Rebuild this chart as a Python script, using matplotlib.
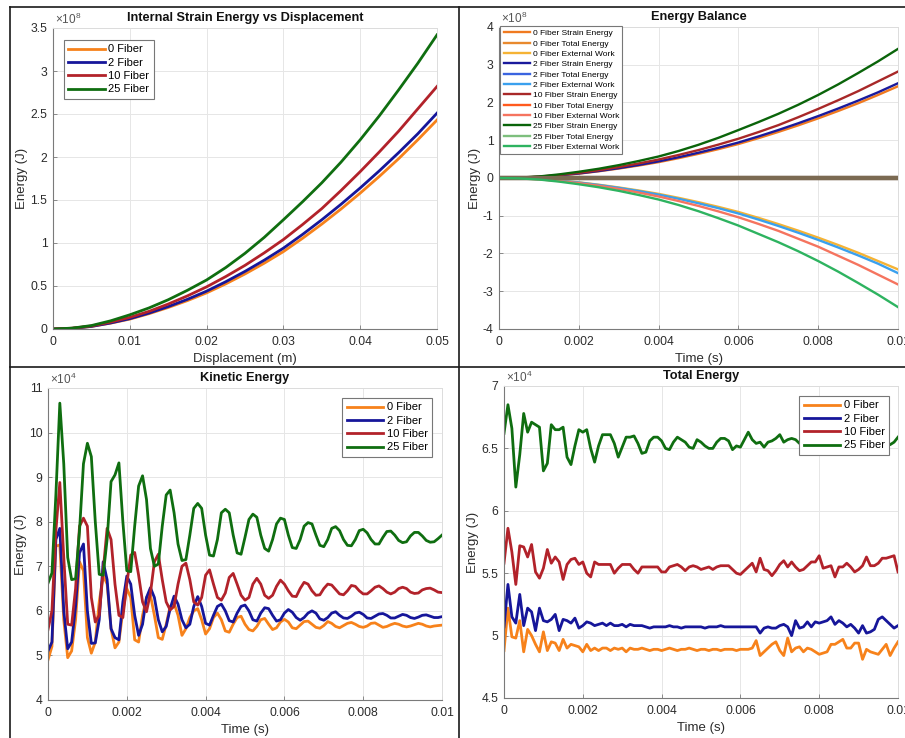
import numpy as np
import matplotlib
matplotlib.use('Agg')
import matplotlib.pyplot as plt
from matplotlib.ticker import FuncFormatter
from matplotlib.lines import Line2D

plt.rcParams['font.family'] = ['Liberation Sans', 'DejaVu Sans']
plt.rcParams['mathtext.fontset'] = 'custom'
plt.rcParams['mathtext.rm'] = 'Liberation Sans'
plt.rcParams['mathtext.it'] = 'Liberation Sans:italic'

# ---------------- data ----------------
fiber_labels = ['0 Fiber', '2 Fiber', '10 Fiber', '25 Fiber']
fiber_colors = ['#F7821B', '#16169A', '#B2222A', '#0F6E10']

# internal strain energy (x 1e8 J) vs displacement (m)
displacement = [0, 0.0025, 0.005, 0.0075, 0.01, 0.0125, 0.015, 0.0175, 0.02, 0.0225, 0.025,
                0.0275, 0.03, 0.0325, 0.035, 0.0375, 0.04, 0.0425, 0.045, 0.0475, 0.05]
strain_0 = [0, 0.008, 0.03, 0.068, 0.115, 0.178, 0.25, 0.33, 0.42, 0.525, 0.64,
            0.765, 0.90, 1.055, 1.22, 1.395, 1.58, 1.775, 1.98, 2.20, 2.43]
strain_2 = [0, 0.008, 0.03, 0.07, 0.12, 0.185, 0.26, 0.345, 0.44, 0.55, 0.67,
            0.80, 0.94, 1.10, 1.27, 1.45, 1.64, 1.84, 2.05, 2.27, 2.51]
strain_10 = [0, 0.009, 0.035, 0.08, 0.135, 0.205, 0.29, 0.385, 0.49, 0.61, 0.74,
             0.885, 1.04, 1.215, 1.40, 1.61, 1.83, 2.06, 2.30, 2.56, 2.82]
strain_25 = [0, 0.01, 0.04, 0.095, 0.165, 0.245, 0.34, 0.45, 0.57, 0.715, 0.88,
             1.065, 1.27, 1.48, 1.70, 1.94, 2.20, 2.48, 2.78, 3.09, 3.42]

# energy balance (x 1e8 J) vs time (s)
time_bal = [0, 0.0005, 0.001, 0.0015, 0.002, 0.0025, 0.003, 0.0035, 0.004, 0.0045, 0.005,
            0.0055, 0.006, 0.0065, 0.007, 0.0075, 0.008, 0.0085, 0.009, 0.0095, 0.01]
total_0 = [0] * 21
total_2 = [0] * 21
total_10 = [0] * 21
total_25 = [0] * 21
work_0 = [0, -0.008, -0.03, -0.068, -0.115, -0.178, -0.25, -0.33, -0.42, -0.525, -0.64,
          -0.765, -0.90, -1.055, -1.22, -1.395, -1.58, -1.775, -1.98, -2.20, -2.42]
work_2 = [0, -0.008, -0.03, -0.07, -0.12, -0.185, -0.26, -0.345, -0.44, -0.55, -0.67,
          -0.80, -0.94, -1.10, -1.27, -1.45, -1.64, -1.84, -2.05, -2.27, -2.52]
work_10 = [0, -0.009, -0.035, -0.08, -0.135, -0.205, -0.29, -0.385, -0.49, -0.61, -0.74,
           -0.885, -1.04, -1.215, -1.40, -1.61, -1.82, -2.06, -2.30, -2.56, -2.82]
work_25 = [0, -0.01, -0.04, -0.095, -0.165, -0.245, -0.34, -0.45, -0.57, -0.715, -0.88,
           -1.065, -1.26, -1.48, -1.70, -1.94, -2.20, -2.48, -2.78, -3.09, -3.42]
balance_labels = ['0 Fiber Strain Energy', '0 Fiber Total Energy', '0 Fiber External Work',
                  '2 Fiber Strain Energy', '2 Fiber Total Energy', '2 Fiber External Work',
                  '10 Fiber Strain Energy', '10 Fiber Total Energy', '10 Fiber External Work',
                  '25 Fiber Strain Energy', '25 Fiber Total Energy', '25 Fiber External Work']
balance_colors = ['#F07A20', '#E8892E', '#F5B335',
                  '#1A1A9C', '#3A64E0', '#3AA0EE',
                  '#A82828', '#FF5A1E', '#F5745F',
                  '#0A640A', '#7DBF7D', '#2EB360']

# kinetic energy (x 1e4 J), sampled every 1e-4 s
time_ke = np.linspace(0, 0.01, 101)
ke_0 = [4.90, 5.2, 7.45, 7.48, 5.8, 4.95, 5.1, 5.8, 7.1, 6.9,
        5.4, 5.05, 5.3, 6.2, 6.8, 6.6, 5.6, 5.17, 5.3, 6.0,
        6.5, 6.3, 5.35, 5.3, 5.9, 6.3, 6.35, 5.9, 5.4, 5.36,
        5.7, 6.1, 6.17, 5.9, 5.45, 5.6, 5.85, 6.0, 6.05, 5.8,
        5.48, 5.6, 5.85, 5.95, 5.8, 5.55, 5.52, 5.7, 5.85, 5.88,
        5.7, 5.58, 5.55, 5.65, 5.8, 5.83, 5.7, 5.58, 5.62, 5.75,
        5.81, 5.75, 5.62, 5.6, 5.68, 5.76, 5.77, 5.7, 5.63, 5.61,
        5.67, 5.76, 5.72, 5.65, 5.62, 5.67, 5.72, 5.74, 5.7, 5.65,
        5.63, 5.66, 5.72, 5.73, 5.68, 5.63, 5.65, 5.69, 5.72, 5.7,
        5.66, 5.64, 5.66, 5.69, 5.72, 5.7, 5.66, 5.64, 5.66, 5.67,
        5.68]
ke_2 = [5.10, 5.3, 7.6, 7.85, 6.0, 5.15, 5.3, 6.1, 7.3, 7.5,
        6.0, 5.27, 5.28, 5.8, 7.1, 6.7, 5.6, 5.4, 5.35, 6.2,
        6.78, 6.6, 5.9, 5.45, 5.7, 6.3, 6.52, 6.3, 5.8, 5.53,
        5.65, 6.05, 6.33, 6.15, 5.8, 5.62, 5.7, 6.1, 6.32, 6.1,
        5.72, 5.68, 5.9, 6.1, 6.15, 6.0, 5.78, 5.75, 5.95, 6.1,
        6.13, 6.0, 5.8, 5.77, 5.95, 6.07, 6.05, 5.9, 5.77, 5.8,
        5.95, 6.03, 5.97, 5.85, 5.79, 5.85, 5.95, 6.0, 5.95, 5.82,
        5.79, 5.85, 5.95, 5.98, 5.9, 5.84, 5.83, 5.88, 5.95, 5.97,
        5.92, 5.84, 5.83, 5.88, 5.93, 5.94, 5.9, 5.84, 5.84, 5.88,
        5.92, 5.9, 5.85, 5.83, 5.86, 5.9, 5.91, 5.88, 5.85, 5.85,
        5.87]
ke_10 = [5.58, 6.0, 7.8, 8.88, 7.2, 5.7, 5.68, 6.5, 7.9, 8.08,
         7.9, 6.3, 5.75, 5.9, 6.9, 7.85, 7.6, 6.6, 5.9, 5.85,
         6.6, 7.25, 7.31, 6.8, 6.2, 5.98, 6.4, 7.1, 7.27, 6.7,
         6.2, 6.02, 6.1, 6.6, 7.0, 7.07, 6.7, 6.2, 6.13, 6.3,
         6.8, 6.92, 6.6, 6.3, 6.24, 6.4, 6.75, 6.84, 6.6, 6.35,
         6.24, 6.3, 6.6, 6.73, 6.6, 6.35, 6.28, 6.35, 6.55, 6.69,
         6.6, 6.45, 6.33, 6.32, 6.5, 6.64, 6.6, 6.45, 6.35, 6.36,
         6.5, 6.6, 6.58, 6.48, 6.38, 6.36, 6.45, 6.57, 6.55, 6.45,
         6.38, 6.38, 6.45, 6.53, 6.56, 6.5, 6.42, 6.38, 6.42, 6.5,
         6.53, 6.5, 6.42, 6.39, 6.4, 6.47, 6.5, 6.51, 6.47, 6.42,
         6.41]
ke_25 = [6.62, 6.85, 8.6, 10.66, 9.3, 7.2, 6.7, 6.72, 7.8, 9.3,
         9.76, 9.46, 8.0, 6.82, 6.8, 7.6, 8.9, 9.05, 9.32, 8.0,
         6.9, 6.88, 7.9, 8.8, 9.03, 8.5, 7.4, 7.0, 7.05, 7.9,
         8.6, 8.71, 8.2, 7.5, 7.13, 7.15, 7.7, 8.3, 8.41, 8.3,
         7.7, 7.25, 7.23, 7.6, 8.2, 8.28, 8.2, 7.7, 7.3, 7.27,
         7.65, 8.05, 8.17, 8.1, 7.7, 7.4, 7.34, 7.6, 7.95, 8.08,
         8.05, 7.7, 7.42, 7.4, 7.6, 7.9, 7.98, 7.95, 7.7, 7.47,
         7.44, 7.6, 7.85, 7.89, 7.8, 7.6, 7.47, 7.46, 7.6, 7.8,
         7.83, 7.75, 7.6, 7.5, 7.5, 7.65, 7.78, 7.79, 7.7, 7.58,
         7.53, 7.55, 7.68, 7.76, 7.76, 7.68, 7.58, 7.54, 7.55, 7.62,
         7.70]

# total energy (x 1e4 J), sampled every 1e-4 s
time_tot = np.linspace(0, 0.01, 101)
te_0 = [4.88, 5.22, 4.99, 4.98, 5.12, 4.87, 5.05, 5.00, 4.93, 4.87,
        5.03, 4.88, 4.95, 4.94, 4.88, 4.97, 4.90, 4.93, 4.92, 4.91,
        4.87, 4.93, 4.88, 4.90, 4.88, 4.90, 4.90, 4.88, 4.90, 4.89,
        4.90, 4.87, 4.90, 4.89, 4.89, 4.90, 4.89, 4.88, 4.89, 4.89,
        4.88, 4.89, 4.90, 4.89, 4.88, 4.89, 4.89, 4.90, 4.89, 4.88,
        4.89, 4.89, 4.88, 4.89, 4.89, 4.88, 4.89, 4.89, 4.89, 4.88,
        4.89, 4.89, 4.89, 4.90, 4.96, 4.84, 4.87, 4.90, 4.93, 4.95,
        4.88, 4.84, 4.98, 4.87, 4.90, 4.91, 4.87, 4.90, 4.89, 4.87,
        4.85, 4.86, 4.87, 4.93, 4.93, 4.95, 4.97, 4.90, 4.90, 4.94,
        4.94, 4.81, 4.89, 4.87, 4.86, 4.85, 4.89, 4.93, 4.84, 4.90,
        4.95]
te_2 = [5.07, 5.41, 5.15, 5.10, 5.33, 5.08, 5.22, 5.19, 5.04, 5.22,
        5.12, 5.11, 5.13, 5.17, 5.04, 5.13, 5.12, 5.10, 5.14, 5.06,
        5.08, 5.11, 5.10, 5.08, 5.09, 5.10, 5.08, 5.10, 5.08, 5.08,
        5.09, 5.07, 5.09, 5.08, 5.08, 5.08, 5.07, 5.06, 5.07, 5.07,
        5.07, 5.07, 5.08, 5.07, 5.07, 5.06, 5.07, 5.07, 5.07, 5.07,
        5.07, 5.06, 5.07, 5.07, 5.07, 5.08, 5.07, 5.07, 5.07, 5.07,
        5.07, 5.07, 5.07, 5.07, 5.07, 5.02, 5.06, 5.07, 5.06, 5.06,
        5.08, 5.09, 5.07, 5.00, 5.12, 5.06, 5.07, 5.11, 5.07, 5.11,
        5.10, 5.11, 5.12, 5.15, 5.09, 5.12, 5.10, 5.07, 5.09, 5.06,
        5.02, 5.08, 5.02, 5.03, 5.05, 5.13, 5.15, 5.12, 5.09, 5.06,
        5.08]
te_10 = [5.58, 5.86, 5.67, 5.41, 5.72, 5.71, 5.63, 5.73, 5.51, 5.46,
         5.54, 5.69, 5.58, 5.63, 5.59, 5.45, 5.57, 5.61, 5.62, 5.57,
         5.59, 5.50, 5.47, 5.59, 5.57, 5.57, 5.57, 5.57, 5.50, 5.54,
         5.57, 5.57, 5.57, 5.53, 5.50, 5.55, 5.55, 5.55, 5.55, 5.55,
         5.51, 5.51, 5.55, 5.56, 5.57, 5.55, 5.52, 5.55, 5.56, 5.55,
         5.53, 5.54, 5.55, 5.53, 5.55, 5.56, 5.56, 5.56, 5.53, 5.50,
         5.49, 5.52, 5.55, 5.58, 5.51, 5.62, 5.53, 5.52, 5.48, 5.52,
         5.57, 5.60, 5.55, 5.59, 5.55, 5.52, 5.53, 5.56, 5.59, 5.59,
         5.64, 5.54, 5.55, 5.56, 5.47, 5.55, 5.55, 5.58, 5.55, 5.51,
         5.53, 5.56, 5.63, 5.56, 5.56, 5.58, 5.62, 5.62, 5.63, 5.64,
         5.51]
te_25 = [6.62, 6.85, 6.66, 6.19, 6.45, 6.78, 6.63, 6.71, 6.69, 6.67,
         6.32, 6.38, 6.69, 6.65, 6.65, 6.67, 6.43, 6.37, 6.52, 6.65,
         6.63, 6.65, 6.50, 6.39, 6.52, 6.61, 6.61, 6.61, 6.54, 6.43,
         6.51, 6.59, 6.59, 6.60, 6.54, 6.46, 6.47, 6.56, 6.59, 6.59,
         6.56, 6.50, 6.49, 6.55, 6.59, 6.57, 6.55, 6.51, 6.50, 6.57,
         6.55, 6.52, 6.50, 6.50, 6.55, 6.58, 6.58, 6.56, 6.49, 6.52,
         6.51, 6.57, 6.63, 6.57, 6.54, 6.55, 6.51, 6.55, 6.56, 6.58,
         6.61, 6.55, 6.57, 6.58, 6.57, 6.54, 6.56, 6.60, 6.52, 6.55,
         6.58, 6.54, 6.50, 6.56, 6.59, 6.55, 6.53, 6.57, 6.60, 6.55,
         6.52, 6.56, 6.58, 6.54, 6.56, 6.55, 6.57, 6.54, 6.53, 6.55,
         6.59]

# ---------------- helpers ----------------
TXT = '#2b2b2b'


def style_axes(ax, title, xlabel, ylabel, exp, xticks, yticks):
    ax.set_title(title, fontsize=9.2, fontweight='bold', color='#111111', pad=5)
    ax.set_xlabel(xlabel, fontsize=9.5, color=TXT, labelpad=4)
    ax.set_ylabel(ylabel, fontsize=9.5, color=TXT, labelpad=1.5)
    ax.set_xticks(xticks)
    ax.set_yticks(yticks)
    ax.xaxis.set_major_formatter(FuncFormatter(lambda v, p: f'{v:g}'))
    ax.yaxis.set_major_formatter(FuncFormatter(lambda v, p: f'{v / 10 ** exp:g}'))
    ax.grid(True, color='#e6e6e6', lw=0.7)
    ax.set_axisbelow(True)
    for s in ['top', 'right']:
        ax.spines[s].set_color('#dcdcdc')
        ax.spines[s].set_linewidth(0.7)
    for s in ['left', 'bottom']:
        ax.spines[s].set_color('#7a7a7a')
        ax.spines[s].set_linewidth(0.8)
    ax.tick_params(direction='in', length=3, width=0.6, color='#7a7a7a',
                   labelsize=8.7, labelcolor=TXT, pad=5)
    ax.tick_params(axis='y', pad=4)
    ax.text(0.004, 1.004, r'$\times10^{%d}$' % exp, transform=ax.transAxes,
            fontsize=8.5, color='#555555', ha='left', va='bottom')


def legend_box(ax, loc, anchor, fs, hl, ls):
    leg = ax.legend(loc=loc, bbox_to_anchor=anchor, fontsize=fs, handlelength=hl,
                    labelspacing=ls, handletextpad=0.3, borderpad=0.4,
                    borderaxespad=0, fancybox=False, framealpha=1,
                    edgecolor='#777777')
    leg.get_frame().set_linewidth(0.8)
    return leg


fig = plt.figure(figsize=(9.05, 7.38), dpi=100)
W, H = 905.0, 738.0


def axes_px(left, right, top, bottom):
    return fig.add_axes([left / W, 1 - bottom / H, (right - left) / W, (bottom - top) / H])


# ---- internal strain energy vs displacement ----
ax1 = axes_px(53, 437, 28, 329)
for vals, lab, col in zip([strain_0, strain_2, strain_10, strain_25], fiber_labels, fiber_colors):
    ax1.plot(displacement, np.array(vals) * 1e8, color=col, lw=2.0, label=lab)
ax1.set_xlim(0, 0.05)
ax1.set_ylim(0, 3.5e8)
style_axes(ax1, 'Internal Strain Energy vs Displacement', 'Displacement (m)', 'Energy (J)', 8,
           [0, 0.01, 0.02, 0.03, 0.04, 0.05], np.arange(0, 8) * 0.5e8)
legend_box(ax1, 'upper left', (11 / 384, 1 - 12 / 301), 8, 3.3, 0.3)

# ---- energy balance ----
ax2 = axes_px(499, 898, 27, 329)
balance_series = [strain_0, total_0, work_0, strain_2, total_2, work_2,
                  strain_10, total_10, work_10, strain_25, total_25, work_25]
balance_lines = []
for vals, lab, col in zip(balance_series, balance_labels, balance_colors):
    ln, = ax2.plot(time_bal, np.array(vals) * 1e8, color=col, lw=1.7, label=lab)
    balance_lines.append(ln)
ax2.set_xlim(0, 0.01)
ax2.set_ylim(-4e8, 4e8)
style_axes(ax2, 'Energy Balance', 'Time (s)', 'Energy (J)', 8,
           [0, 0.002, 0.004, 0.006, 0.008, 0.01], np.arange(-4, 5) * 1e8)
legend_box(ax2, 'upper left', (0.003, 1.003), 6.0, 3.2, 0.3)
# the overlapping total-energy lines read as one brownish line at zero
for ln in balance_lines[1::3]:
    ln.set_color('#7B6A52')
    ln.set_linewidth(3)

# ---- kinetic energy ----
ax3 = axes_px(48, 442, 388, 700)
for vals, lab, col in zip([ke_0, ke_2, ke_10, ke_25], fiber_labels, fiber_colors):
    ax3.plot(time_ke, np.array(vals) * 1e4, color=col, lw=2.0, label=lab)
ax3.set_xlim(0, 0.01)
ax3.set_ylim(4e4, 11e4)
style_axes(ax3, 'Kinetic Energy', 'Time (s)', 'Energy (J)', 4,
           [0, 0.002, 0.004, 0.006, 0.008, 0.01], np.arange(4, 12) * 1e4)
legend_box(ax3, 'upper right', (1 - 10 / 394, 1 - 10 / 312), 8, 3.3, 0.3)

# ---- total energy ----
ax4 = axes_px(504, 898, 386, 698)
for vals, lab, col in zip([te_0, te_2, te_10, te_25], fiber_labels, fiber_colors):
    ax4.plot(time_tot, np.array(vals) * 1e4, color=col, lw=2.0, label=lab)
ax4.set_xlim(0, 0.01)
ax4.set_ylim(4.5e4, 7e4)
style_axes(ax4, 'Total Energy', 'Time (s)', 'Energy (J)', 4,
           [0, 0.002, 0.004, 0.006, 0.008, 0.01], np.arange(9, 15) * 0.5e4)
legend_box(ax4, 'upper right', (1 - 9 / 394, 1 - 10 / 312), 8, 3.3, 0.3)


# panel frame lines of the screenshot
def frame_line(x0, y0, x1, y1):
    fig.add_artist(Line2D([x0 / W, x1 / W], [1 - y0 / H, 1 - y1 / H],
                          transform=fig.transFigure, color='#1a1a1a', lw=1.2))


frame_line(10, 7, 905, 7)
frame_line(10, 7, 10, 738)
frame_line(459, 7, 459, 738)
frame_line(10, 367, 905, 367)

fig.savefig('out.png', dpi=100, facecolor='white')
